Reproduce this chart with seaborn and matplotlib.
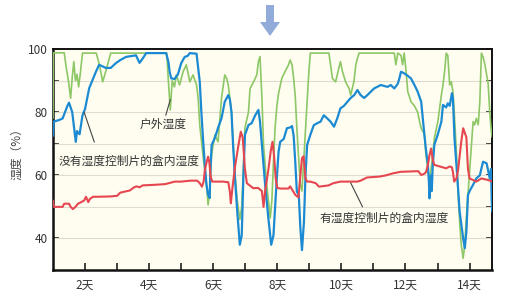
import numpy as np
import pandas as pd
import matplotlib
matplotlib.use("Agg")
import matplotlib.pyplot as plt
from matplotlib.patches import Polygon
import seaborn as sns

# ---- data (day, humidity %) ----
outdoor_day = [1.00, 1.01, 1.35, 1.40, 1.48, 1.55, 1.60, 1.65, 1.70, 1.75, 1.80, 1.85, 1.92,
               2.35, 2.45, 2.55, 2.65, 2.80, 4.55, 4.60, 4.66, 4.72, 4.79, 4.85, 4.95, 5.06,
               5.16, 5.27, 5.37, 5.48, 5.53, 5.58, 5.68, 5.79, 5.84, 5.89, 5.95, 6.00, 6.05,
               6.15, 6.26, 6.36, 6.42, 6.47, 6.52, 6.57, 6.62, 6.68, 6.75, 6.83, 6.89, 6.94,
               6.99, 7.10, 7.15, 7.26, 7.36, 7.41, 7.46, 7.52, 7.57, 7.67, 7.78, 7.83, 7.88,
               7.93, 7.99, 8.04, 8.14, 8.25, 8.35, 8.40, 8.46, 8.51, 8.56, 8.61, 8.66, 8.72,
               8.77, 8.82, 8.88, 8.93, 8.98, 9.03, 9.61, 9.66, 9.72, 9.82, 9.87, 9.97, 10.03,
               10.13, 10.24, 10.29, 10.39, 10.45, 10.50, 10.55, 11.65, 11.70, 11.76, 11.86,
               11.91, 11.96, 12.02, 12.07, 12.12, 12.17, 12.28, 12.38, 12.44, 12.49, 12.59,
               12.64, 12.70, 12.75, 12.80, 12.85, 12.90, 13.01, 13.12, 13.17, 13.22, 13.27,
               13.32, 13.38, 13.43, 13.48, 13.53, 13.59, 13.64, 13.69, 13.74, 13.80, 13.85,
               13.90, 13.95, 14.00, 14.06, 14.11, 14.16, 14.21, 14.27, 14.32, 14.37, 14.42,
               14.48, 14.53, 14.58, 14.63, 14.68, 14.71]
outdoor_val = [78, 98.8, 98.8, 95, 90, 84.4, 91, 96, 90, 92, 88, 92, 98.7,
               98.7, 95, 89.6, 93, 98.7, 98.7, 90, 80.7, 90, 88, 91.8, 88.6, 92.8,
               95, 89.6, 91.8, 88.6, 84.4, 75.9, 66.4, 57, 50.6, 54.8, 66.4, 69.6, 72.8,
               70.6, 84.5, 91.8, 90.7, 88.6, 84.4, 80, 70, 60, 52, 46, 50, 62,
               75, 80, 87.5, 89.6, 91.8, 96, 97.6, 84.4, 69.6, 57, 46.5, 52, 64.3,
               75, 82.3, 86, 90.7, 93, 95, 96.5, 95, 90.7, 85, 74.9, 66.4, 57,
               55, 64, 75, 83.3, 92, 98.7, 98.7, 95, 90.7, 89.6, 91.8, 96, 93,
               89.6, 87.5, 85.4, 89.6, 95, 97, 98.7, 98.7, 95, 98.7, 98,
               95, 98.7, 92.8, 86.5, 85, 83.3, 82, 80, 77, 74.9, 73,
               66.4, 62, 58.5, 62, 66.4, 71.7, 77, 85.4, 88.6, 92.8, 98.7,
               98, 88.6, 89.6, 86.5, 78.6, 67, 54.8, 45.3, 38, 33.7, 38,
               46.5, 54, 61.1, 69.6, 77, 76, 78, 76, 83.3, 98.7, 97.5,
               95, 92, 89, 80, 73.8, 72]

nocontrol_day = [1.00, 1.02, 1.19, 1.30, 1.45, 1.50, 1.60, 1.71, 1.75, 1.83, 1.92, 2.00, 2.13,
                 2.34, 2.44, 2.65, 2.80, 2.96, 3.10, 3.28, 3.59, 3.70, 3.80, 3.91, 4.53, 4.60,
                 4.64, 4.69, 4.79, 4.90, 5.00, 5.11, 5.20, 5.27, 5.48, 5.53, 5.58, 5.63, 5.68,
                 5.74, 5.79, 5.84, 5.89, 5.91, 5.95, 6.05, 6.15, 6.26, 6.36, 6.47, 6.52, 6.57,
                 6.62, 6.68, 6.75, 6.83, 6.89, 6.94, 6.99, 7.10, 7.20, 7.31, 7.41, 7.46, 7.52,
                 7.62, 7.72, 7.81, 7.88, 7.94, 7.99, 8.04, 8.09, 8.20, 8.30, 8.41, 8.46, 8.51,
                 8.56, 8.61, 8.67, 8.72, 8.77, 8.83, 8.88, 8.93, 9.03, 9.14, 9.25, 9.35, 9.45,
                 9.56, 9.66, 9.77, 9.87, 9.97, 10.08, 10.19, 10.29, 10.40, 10.50, 10.60, 10.71,
                 10.81, 10.92, 11.02, 11.23, 11.44, 11.54, 11.65, 11.76, 11.81, 11.86, 11.96,
                 12.07, 12.17, 12.28, 12.38, 12.49, 12.54, 12.59, 12.64, 12.70, 12.73, 12.75,
                 12.78, 12.80, 12.82, 12.85, 12.90, 13.01, 13.12, 13.17, 13.27, 13.32, 13.38,
                 13.45, 13.48, 13.53, 13.62, 13.69, 13.80, 13.85, 13.90, 13.95, 14.00, 14.11,
                 14.21, 14.32, 14.37, 14.42, 14.53, 14.58, 14.63, 14.67, 14.69, 14.71]
nocontrol_val = [72.5, 77, 77.5, 78, 82, 83, 80, 70.6, 74, 73, 79, 81, 87.6,
                 92.8, 95, 94, 94, 95.5, 96.5, 97.5, 98, 95.6, 97, 98.7, 98.7, 96,
                 92.8, 90.7, 90.5, 92, 95.5, 97.5, 97.8, 98.7, 98.5, 94, 89.6, 80, 71.8,
                 63, 57, 53.8, 52.8, 61, 69.6, 71.8, 75, 78.1, 83.3, 85.4, 84, 80,
                 69.6, 59, 48.5, 38, 41, 59, 72.8, 75.9, 76.5, 79, 80.7, 77, 69.6,
                 57, 46.5, 38, 41, 51.6, 60, 67.5, 70.6, 71.5, 74.9, 75.2, 75.6, 72.5,
                 64.3, 54.8, 53.8, 43.2, 36.3, 45, 60, 69.6, 72.8, 75.9, 76.5, 77, 79,
                 78, 77, 75.4, 78, 81.2, 82, 83.3, 84.5, 85.4, 87, 85.4, 84.5,
                 85.4, 86.5, 87.5, 88.6, 88, 88.6, 87.5, 89, 90.7, 92.8, 92.3,
                 91.5, 90.7, 88.6, 86.5, 83.3, 78, 72.8, 68, 63.3, 58, 52.7,
                 57, 60, 55, 63, 69.6, 73, 77, 82.3, 81.5, 82.8, 82,
                 86, 84.5, 71.7, 59, 48.5, 40, 36.9, 42, 53.8, 55, 57,
                 59, 60, 62.2, 64.3, 63.8, 61.5, 59, 62, 52, 48.5]

control_day = [1.00, 1.02, 1.30, 1.35, 1.50, 1.55, 1.62, 1.70, 1.78, 1.90, 1.97, 2.03, 2.10,
               2.15, 2.25, 2.40, 2.80, 3.00, 3.10, 3.40, 3.50, 3.60, 3.70, 3.80, 4.20, 4.50,
               4.80, 5.00, 5.30, 5.50, 5.58, 5.65, 5.70, 5.74, 5.79, 5.84, 5.88, 5.92, 5.97,
               6.30, 6.47, 6.52, 6.55, 6.60, 6.68, 6.78, 6.86, 6.92, 6.99, 7.05, 7.25, 7.40,
               7.52, 7.57, 7.62, 7.72, 7.80, 7.85, 7.90, 7.95, 8.00, 8.10, 8.35, 8.40, 8.46,
               8.56, 8.66, 8.72, 8.77, 8.82, 8.88, 8.93, 9.03, 9.20, 9.30, 9.60, 9.75, 9.97,
               10.50, 10.60, 10.80, 11.20, 11.40, 11.60, 11.85, 12.40, 12.49, 12.59, 12.64,
               12.70, 12.75, 12.80, 12.85, 12.90, 13.00, 13.27, 13.38, 13.45, 13.48, 13.52,
               13.59, 13.64, 13.74, 13.80, 13.85, 13.90, 13.95, 14.00, 14.11, 14.21, 14.37,
               14.58, 14.71]
control_val = [52, 50, 50, 51, 51, 50, 49.3, 50, 51, 51.6, 52, 53.2, 51.5,
               52.5, 53.2, 53.2, 53.3, 53.5, 54.5, 55.2, 56, 56.5, 56.2, 56.8, 57, 57.2,
               58, 58, 58.3, 58.3, 57.5, 56.4, 58, 61.7, 64, 65.9, 64, 59.6, 58,
               58, 57.8, 54.8, 51.1, 56, 62.7, 69.1, 73.8, 72, 62, 57.5, 55.9, 56,
               55, 50, 55, 61.7, 68, 70.6, 66, 59, 56, 55.8, 55.8, 56.5, 55.5,
               53.8, 53, 60, 65.4, 66, 59, 58, 58, 57.5, 56.4, 56.8, 57.5, 58,
               58, 58.3, 59.3, 59.6, 60, 60.6, 61.1, 61.3, 60.1, 60.5, 61,
               63.3, 66.4, 68.5, 65, 63.3, 63, 62.2, 62.8, 62.5, 61, 58,
               59, 61.5, 70.6, 74.9, 73.5, 72, 62, 59, 58.5, 58, 59,
               58.5, 58]

x_ticks = [2, 3, 4, 5, 6, 7, 8, 9, 10, 11, 12, 13, 14]
x_labels = ["2天", "", "4天", "", "6天", "", "8天", "", "10天", "", "12天", "", "14天"]
y_ticks = [40, 50, 60, 70, 80, 90, 100]
y_labels = ["40", "", "60", "", "80", "", "100"]

# ---- style ----
sns.set_theme(style="ticks")
plt.rcParams["font.family"] = ["Noto Sans CJK SC", "DejaVu Sans"]
plt.rcParams["axes.unicode_minus"] = False

fig = plt.figure(figsize=(5.17, 3.0), dpi=100)
fig.patch.set_facecolor("white")
ax = fig.add_axes([53 / 517, 1 - 270 / 300, (492 - 53) / 517, (270 - 49) / 300])
ax.set_facecolor("#fefdf0")

df_out = pd.DataFrame({"day": outdoor_day, "hum": outdoor_val})
df_no = pd.DataFrame({"day": nocontrol_day, "hum": nocontrol_val})
df_ctl = pd.DataFrame({"day": control_day, "hum": control_val})

GREEN = "#8dc766"
BLUE = "#1b8ad2"
RED = "#e6464f"

sns.lineplot(data=df_out, x="day", y="hum", ax=ax, color=GREEN, linewidth=1.2,
             estimator=None, sort=False, zorder=3)
sns.lineplot(data=df_no, x="day", y="hum", ax=ax, color=BLUE, linewidth=1.6,
             estimator=None, sort=False, zorder=4)
sns.lineplot(data=df_ctl, x="day", y="hum", ax=ax, color=RED, linewidth=1.5,
             estimator=None, sort=False, zorder=5)

ax.set_xlim(1.0, 14.7)
ax.set_ylim(30, 100)
ax.set_xticks(x_ticks)
ax.set_xticklabels(x_labels)
ax.set_yticks(y_ticks)
ax.set_yticklabels(y_labels)
ax.set_xlabel("")
ax.set_ylabel("湿度（%）", fontsize=8.5, color="#444444")
ax.yaxis.set_label_coords(-0.068, 0.54)

for yv in [40, 50, 60, 70, 80, 90]:
    ax.axhline(yv, color="#dedbd0", linewidth=0.8, zorder=1)

ax.tick_params(axis="x", direction="in", length=5, width=1.2, colors="#222222",
               labelsize=8.5, labelcolor="#333333", pad=6)
ax.tick_params(axis="y", direction="in", length=4, width=1.2, colors="#222222",
               labelsize=8.5, labelcolor="#333333", left=True, right=True, pad=4)
for side in ["left", "bottom"]:
    ax.spines[side].set_linewidth(1.8)
    ax.spines[side].set_color("#111111")
for side in ["top", "right"]:
    ax.spines[side].set_visible(True)
    ax.spines[side].set_linewidth(1.4)
    ax.spines[side].set_color("#111111")

# annotations (text + leader lines)
tc = "#333333"
lc = "#444444"
ax.text(4.43, 76.1, "户外湿度", fontsize=8.5, color=tc, ha="center", va="center", zorder=6)
ax.annotate("", xy=(4.66, 84.0), xytext=(4.52, 79.0),
            arrowprops=dict(arrowstyle="-", color=lc, lw=0.8, shrinkA=0, shrinkB=0), zorder=6)

ax.text(3.38, 64.5, "没有湿度控制片的盒内湿度", fontsize=8.5, color=tc,
        ha="center", va="center", zorder=6)
ax.annotate("", xy=(1.97, 80.0), xytext=(2.29, 70.5),
            arrowprops=dict(arrowstyle="-", color=lc, lw=0.8, shrinkA=0, shrinkB=0), zorder=6)

ax.text(11.33, 46.5, "有湿度控制片的盒内湿度", fontsize=8.5, color=tc,
        ha="center", va="center", zorder=6)
ax.annotate("", xy=(10.29, 57.6), xytext=(10.66, 50.0),
            arrowprops=dict(arrowstyle="-", color=lc, lw=0.8, shrinkA=0, shrinkB=0), zorder=6)

# decorative arrow at top
W, H = 517, 300
pts = [(266, 5), (274, 5), (274, 22), (280, 22), (270, 36), (260, 22), (266, 22)]
arrow = Polygon([(px / W, 1 - py / H) for px, py in pts], closed=True,
                transform=fig.transFigure, facecolor="#93abd9", edgecolor="none")
fig.add_artist(arrow)

fig.savefig("out.png", dpi=100, facecolor="white")
